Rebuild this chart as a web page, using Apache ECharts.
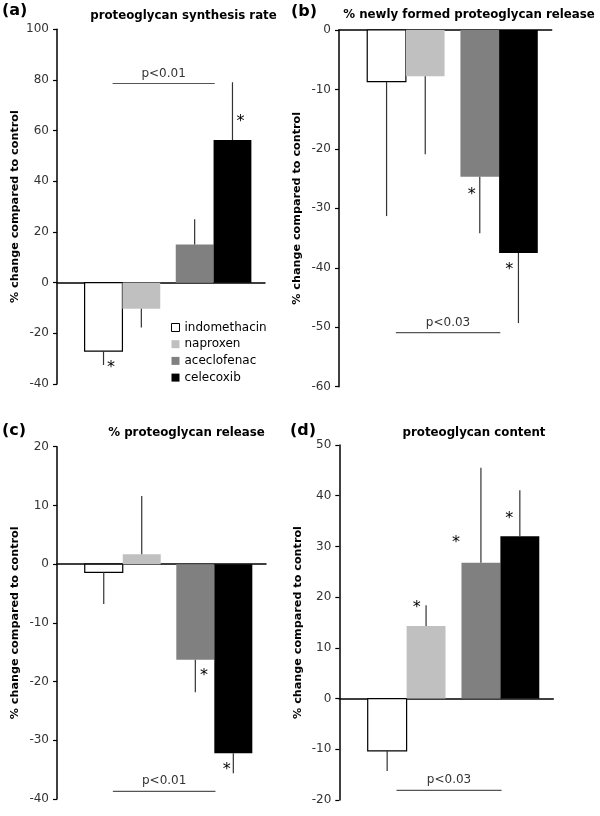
<!DOCTYPE html>
<html>
<head>
<meta charset="utf-8">
<script src="https://cdn.jsdelivr.net/npm/echarts@6/dist/echarts.min.js"></script>
<style>
html,body{margin:0;padding:0;background:#fff}
#chart{width:600px;height:816px}
</style>
</head>
<body>
<div id="chart"></div>
<script>
// drugs, one bar each in every panel
var drugs = ['indomethacin', 'naproxen', 'aceclofenac', 'celecoxib']
var drugColors = ['#ffffff', '#c0c0c0', '#808080', '#000000']

var panelLetters = ['(a)', '(b)', '(c)', '(d)']
var panelTitles = ['proteoglycan synthesis rate', '% newly formed proteoglycan release',
                   '% proteoglycan release', 'proteoglycan content']

// mean % change compared to control, and SD (one-sided error bar)
var synthesisMean = [-27, -10.3, 15.1, 56.3]
var synthesisSd = [5.5, 7.4, 9.9, 22.8]
var newReleaseMean = [-8.7, -7.8, -24.7, -37.5]
var newReleaseSd = [22.6, 13.1, 9.5, 11.8]
var releaseMean = [-1.4, 1.7, -16.3, -32.2]
var releaseSd = [5.4, 9.9, 5.5, 3.4]
var contentMean = [-10.3, 14.3, 26.8, 32.0]
var contentSd = [4.0, 4.1, 18.7, 9.1]

// y axis ranges
var yMin = [-40, -60, -40, -20]
var yMax = [100, 0, 20, 50]
var yStep = [20, 10, 10, 10]

// significance asterisks (x in bar units, y in % change)
var starsA = [[1.43, -32.2], [4.85, 65.2]]
var starsB = [[3.43, -27.1], [4.40, -39.7]]
var starsC = [[3.87, -18.4], [4.47, -34.4]]
var starsD = [[1.99, 18.7], [3.0, 31.4], [4.37, 36.2]]

// p value brackets: label and level
var pLabels = ['p<0.01', 'p<0.03', 'p<0.01', 'p<0.03']
var pLevels = [78.6, -50.9, -38.7, -18.1]

var means = [synthesisMean, newReleaseMean, releaseMean, contentMean]
var sds = [synthesisSd, newReleaseSd, releaseSd, contentSd]
var stars = [starsA, starsB, starsC, starsD]

// layout
var barX = [1.23, 2.23, 3.64, 4.64]
var pSpan = [1.47, 4.17]
var grids = [
    {left: 57, top: 29.3, width: 208, height: 354.7},
    {left: 339, top: 30, width: 212.7, height: 356.7},
    {left: 57, top: 446.7, width: 209, height: 352.3},
    {left: 339.3, top: 445, width: 214, height: 355}
]
var letterPos = [[2, 13], [291, 14], [2, 433], [290, 433]]
var titlePos = [[183.5, 16], [469, 15], [186.5, 432.5], [474, 432.5]]

var myChart = echarts.init(document.getElementById('chart'))

var xAxes = [], yAxes = [], series = [], graphics = []

for (var p = 0; p < 4; p++) {
    xAxes.push({
        gridIndex: p, type: 'value', min: 0, max: 5.5,
        axisLine: {show: true, onZero: true, lineStyle: {color: '#000', width: 1.5}},
        axisTick: {show: false}, axisLabel: {show: false}, splitLine: {show: false}
    })
    yAxes.push({
        gridIndex: p, type: 'value', min: yMin[p], max: yMax[p], interval: yStep[p],
        name: '% change compared to control', nameLocation: 'middle', nameGap: 36,
        nameTextStyle: {color: '#000', fontWeight: 'bold', fontSize: 11.2, fontFamily: 'DejaVu Sans'},
        axisLine: {show: true, lineStyle: {color: '#000', width: 1.5}},
        axisTick: {show: true, length: 4, lineStyle: {color: '#000', width: 1.2}},
        axisLabel: {color: '#333', fontSize: 12, margin: 8, fontFamily: 'DejaVu Sans'},
        splitLine: {show: false}
    })

    // one series per drug so the legend can pick them up
    for (var d = 0; d < 4; d++) {
        series.push({
            name: drugs[d], type: 'custom', xAxisIndex: p, yAxisIndex: p,
            itemStyle: {color: drugColors[d], borderColor: '#000'},
            data: [[barX[d], means[p][d], sds[p][d], d]],
            renderItem: function (params, api) {
                var x = api.value(0), y = api.value(1), sd = api.value(2), di = api.value(3)
                var a = api.coord([x - 0.5, 0])
                var b = api.coord([x + 0.5, y])
                var e0 = api.coord([x, y])
                var e1 = api.coord([x, y + (y < 0 ? -sd : sd)])
                var rect = {
                    type: 'rect',
                    shape: {x: a[0], y: Math.min(a[1], b[1]), width: b[0] - a[0], height: Math.abs(b[1] - a[1])},
                    style: di === 0 ? {fill: '#fff', stroke: '#000', lineWidth: 1.2} : {fill: drugColors[di]}
                }
                return {
                    type: 'group',
                    children: [rect, {
                        type: 'line', z2: 5,
                        shape: {x1: e0[0], y1: e0[1], x2: e1[0], y2: e1[1]},
                        style: {stroke: '#333', lineWidth: 1.2}
                    }]
                }
            }
        })
    }

    // asterisks
    series.push({
        type: 'custom', xAxisIndex: p, yAxisIndex: p, silent: true,
        data: stars[p],
        renderItem: function (params, api) {
            var c = api.coord([api.value(0), api.value(1)])
            return {
                type: 'text',
                style: {x: c[0], y: c[1] + 4, text: '*', fill: '#000', font: '16px "DejaVu Sans"',
                        textAlign: 'center', textVerticalAlign: 'middle'}
            }
        }
    })

    // p value bracket
    series.push({
        type: 'custom', xAxisIndex: p, yAxisIndex: p, silent: true,
        data: [[pSpan[0], pSpan[1], pLevels[p], p]],
        renderItem: function (params, api) {
            var l = api.coord([api.value(0), api.value(2)])
            var r = api.coord([api.value(1), api.value(2)])
            return {
                type: 'group',
                children: [{
                    type: 'line',
                    shape: {x1: l[0], y1: l[1], x2: r[0], y2: r[1]},
                    style: {stroke: '#555', lineWidth: 1.2}
                }, {
                    type: 'text',
                    style: {x: (l[0] + r[0]) / 2, y: l[1] - 4, text: pLabels[api.value(3)], fill: '#333',
                            font: '12px "DejaVu Sans"', textAlign: 'center', textVerticalAlign: 'bottom'}
                }]
            }
        }
    })

    graphics.push({
        type: 'text', left: letterPos[p][0], top: letterPos[p][1] - 10,
        style: {text: panelLetters[p], fill: '#000', font: 'bold 16px "DejaVu Sans"'}
    })
    graphics.push({
        type: 'text', x: titlePos[p][0], y: titlePos[p][1],
        style: {text: panelTitles[p], fill: '#000', font: 'bold 11.8px "DejaVu Sans"',
                textAlign: 'center', textVerticalAlign: 'middle'}
    })
}

var option = {
    animation: false,
    textStyle: {fontFamily: 'DejaVu Sans'},
    grid: grids,
    xAxis: xAxes,
    yAxis: yAxes,
    legend: {
        data: [
            {name: 'indomethacin', itemStyle: {color: '#fff', borderColor: '#000', borderWidth: 1}},
            {name: 'naproxen', itemStyle: {color: '#c0c0c0', borderWidth: 0}},
            {name: 'aceclofenac', itemStyle: {color: '#808080', borderWidth: 0}},
            {name: 'celecoxib', itemStyle: {color: '#000', borderWidth: 0}}
        ],
        orient: 'vertical', left: 171, top: 320.5, padding: 0,
        icon: 'rect', itemWidth: 8, itemHeight: 8, itemGap: 2.7,
        selectedMode: false,
        textStyle: {color: '#000', fontSize: 12, lineHeight: 14, fontFamily: 'DejaVu Sans'}
    },
    graphic: graphics,
    series: series
}
myChart.setOption(option)
</script>
</body>
</html>
